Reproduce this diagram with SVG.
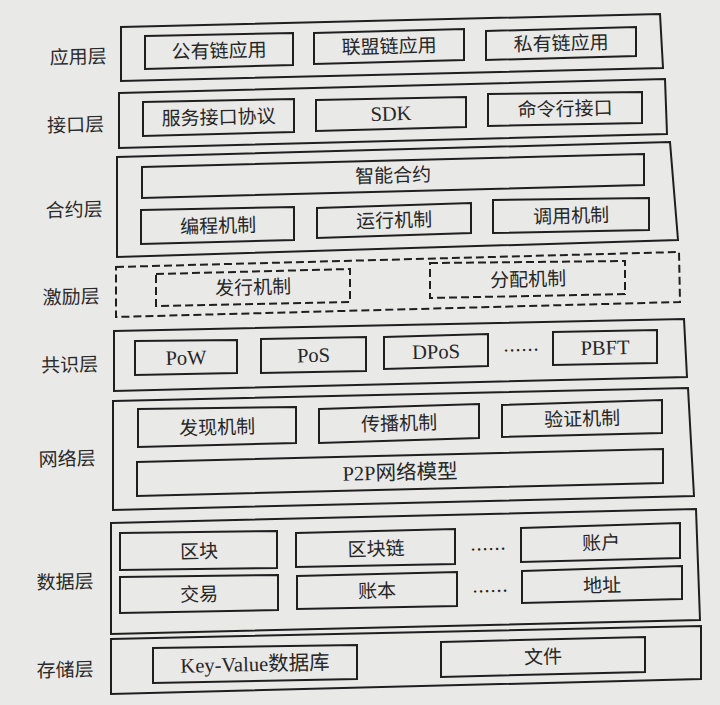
<svg xmlns="http://www.w3.org/2000/svg" width="720" height="705" viewBox="0 0 720 705">
<style>
.bg{fill:#e9e9e8}
.box{fill:none;stroke:#1f1f1f;stroke-width:2;stroke-linejoin:miter}
.dash{fill:none;stroke:#1f1f1f;stroke-width:2;stroke-dasharray:8 4}
.t{font-family:"Liberation Serif","Noto Sans CJK SC",sans-serif;font-size:19px;fill:#262626;text-anchor:middle;dominant-baseline:central}
.en{font-size:20.5px}
.lab{font-family:"Noto Sans CJK SC",sans-serif;font-size:19px;fill:#2a2a2a;text-anchor:middle;dominant-baseline:central}
.dots{font-family:"Noto Sans CJK SC",sans-serif;font-size:18px;fill:#222;text-anchor:middle;dominant-baseline:central}
</style>
<rect class="bg" x="0" y="0" width="720" height="705"/>

<g id="layer-app">
<polygon class="box" points="121,27 660,14 663,68 121,81"/>
<text class="lab" x="78" y="55" transform="rotate(-1.35 78 55)">应用层</text>
<g id="public-chain-app"><polygon class="box" points="145,36 293,33 293,65 145,69"/><text class="t" x="219" y="51" transform="rotate(-1.35 219 51)">公有链应用</text></g>
<g id="consortium-chain-app"><polygon class="box" points="314,33 464,29 464,60 314,64"/><text class="t" x="389" y="46.5" transform="rotate(-1.35 389 46.5)">联盟链应用</text></g>
<g id="private-chain-app"><polygon class="box" points="486,31 636,27 636,56 486,60"/><text class="t" x="561" y="43.5" transform="rotate(-1.35 561 43.5)">私有链应用</text></g>
</g>

<g id="layer-interface">
<polygon class="box" points="119,93 665,79 667,134 119,148"/>
<text class="lab" x="75.5" y="123" transform="rotate(-1.35 75.5 123)">接口层</text>
<g id="service-protocol"><polygon class="box" points="143,102 294,99 294,132 143,136"/><text class="t" x="218.5" y="117.5" transform="rotate(-1.35 218.5 117.5)">服务接口协议</text></g>
<g id="sdk"><polygon class="box" points="316,100 466,97 466,127 316,131"/><text class="t en" x="391" y="113.5" transform="rotate(-1.35 391 113.5)">SDK</text></g>
<g id="cli"><polygon class="box" points="488,94 642,92 642,123 488,126"/><text class="t" x="565" y="109" transform="rotate(-1.35 565 109)">命令行接口</text></g>
</g>

<g id="layer-contract">
<polygon class="box" points="117,157 670,142 678,240 117,257"/>
<text class="lab" x="74" y="208" transform="rotate(-1.35 74 208)">合约层</text>
<g id="smart-contract"><polygon class="box" points="142,167 644,154 644,185 142,198"/><text class="t" x="393" y="175.5" transform="rotate(-1.35 393 175.5)">智能合约</text></g>
<g id="programming"><polygon class="box" points="141,210 294,207 294,240 141,244"/><text class="t" x="218" y="226" transform="rotate(-1.35 218 226)">编程机制</text></g>
<g id="execution"><polygon class="box" points="317,208 471,203 471,233 317,238"/><text class="t" x="394" y="220.5" transform="rotate(-1.35 394 220.5)">运行机制</text></g>
<g id="invocation"><polygon class="box" points="493,200 649,198 649,230 493,233"/><text class="t" x="571" y="216" transform="rotate(-1.35 571 216)">调用机制</text></g>
</g>

<g id="layer-incentive">
<polygon class="dash" points="116,267 679,252 680,302 116,317"/>
<text class="lab" x="71" y="295" transform="rotate(-1.35 71 295)">激励层</text>
<g id="issuance"><polygon class="dash" points="156,274 350,269 350,302 156,306"/><text class="t" x="253" y="287.5" transform="rotate(-1.35 253 287.5)">发行机制</text></g>
<g id="distribution"><polygon class="dash" points="430,263 625,261 625,294 430,298"/><text class="t" x="528" y="279.5" transform="rotate(-1.35 528 279.5)">分配机制</text></g>
</g>

<g id="layer-consensus">
<polygon class="box" points="114,331 684,319 687,377 114,391"/>
<text class="lab" x="69.5" y="363" transform="rotate(-1.35 69.5 363)">共识层</text>
<g id="pow"><polygon class="box" points="135,341 237,340 237,373 135,375"/><text class="t en" x="186" y="357.5" transform="rotate(-1.35 186 357.5)">PoW</text></g>
<g id="pos"><polygon class="box" points="261,339 366,337 366,371 261,373"/><text class="t en" x="313.5" y="355" transform="rotate(-1.35 313.5 355)">PoS</text></g>
<g id="dpos"><polygon class="box" points="384,337 488,334 488,366 384,369"/><text class="t en" x="436" y="351.5" transform="rotate(-1.35 436 351.5)">DPoS</text></g>
<text class="dots" x="521" y="349" transform="rotate(-1.35 521 349)">……</text>
<g id="pbft"><polygon class="box" points="553,332 657,330 657,363 553,365"/><text class="t en" x="605" y="347.5" transform="rotate(-1.35 605 347.5)">PBFT</text></g>
</g>

<g id="layer-network">
<polygon class="box" points="113,401 688,388 694,496 113,510"/>
<text class="lab" x="67" y="457" transform="rotate(-1.35 67 457)">网络层</text>
<g id="discovery"><polygon class="box" points="138,409 296,407 296,443 138,447"/><text class="t" x="217" y="427.5" transform="rotate(-1.35 217 427.5)">发现机制</text></g>
<g id="propagation"><polygon class="box" points="319,409 479,404 479,438 319,443"/><text class="t" x="399" y="423.5" transform="rotate(-1.35 399 423.5)">传播机制</text></g>
<g id="verification"><polygon class="box" points="502,405 662,400 662,433 502,437"/><text class="t" x="582" y="419" transform="rotate(-1.35 582 419)">验证机制</text></g>
<g id="p2p"><polygon class="box" points="137,462 663,449 663,483 137,496"/><text class="t en" x="400" y="472.5" transform="rotate(-1.35 400 472.5)">P2P网络模型</text></g>
</g>

<g id="layer-data">
<polygon class="box" points="111,523 696,509 700,620 111,634"/>
<text class="lab" x="65" y="580" transform="rotate(-1.35 65 580)">数据层</text>
<g id="block"><polygon class="box" points="120,533 277,531 277,568 120,570"/><text class="t" x="199" y="551.5" transform="rotate(-1.35 199 551.5)">区块</text></g>
<g id="transaction"><polygon class="box" points="120,577 278,575 278,610 120,613"/><text class="t" x="199" y="594.5" transform="rotate(-1.35 199 594.5)">交易</text></g>
<g id="blockchain"><polygon class="box" points="296,533 455,529 455,564 296,567"/><text class="t" x="376" y="549" transform="rotate(-1.35 376 549)">区块链</text></g>
<g id="ledger"><polygon class="box" points="297,576 457,572 457,606 297,609"/><text class="t" x="377" y="591" transform="rotate(-1.35 377 591)">账本</text></g>
<text class="dots" x="488" y="548" transform="rotate(-1.35 488 548)">……</text>
<text class="dots" x="490" y="590" transform="rotate(-1.35 490 590)">……</text>
<g id="account"><polygon class="box" points="521,528 680,523 680,558 521,562"/><text class="t" x="601" y="543" transform="rotate(-1.35 601 543)">账户</text></g>
<g id="address"><polygon class="box" points="522,571 682,566 682,599 522,603"/><text class="t" x="602" y="585.5" transform="rotate(-1.35 602 585.5)">地址</text></g>
</g>

<g id="layer-storage">
<polygon class="box" points="111,639 701,626 701,679 111,694"/>
<text class="lab" x="65" y="668" transform="rotate(-1.35 65 668)">存储层</text>
<g id="kv-db"><polygon class="box" points="153,648 357,645 357,679 153,683"/><text class="t en" x="255" y="664" transform="rotate(-1.35 255 664)">Key-Value数据库</text></g>
<g id="file"><polygon class="box" points="441,642 645,637 645,672 441,677"/><text class="t" x="543" y="657" transform="rotate(-1.35 543 657)">文件</text></g>
</g>

<g id="connectors"></g>
</svg>
